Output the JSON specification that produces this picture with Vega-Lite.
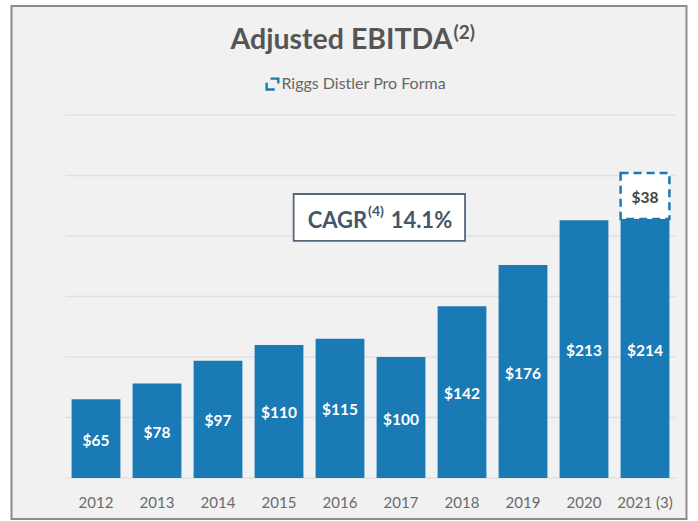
{
"$schema":"https://vega.github.io/schema/vega-lite/v6.json",
"width":610,"height":363,
"autosize":{"type":"none"},
"padding":{"left":65.5,"top":115,"right":22.5,"bottom":43},
"background":"#ffffff",
"view":{"stroke":null},
"title":{"text":"Adjusted EBITDA","font":"Lato","fontSize":28.5,"fontWeight":"bold","color":"#555555","anchor":"middle","dx":-29,"offset":-49},
"config":{"font":"Lato"},
"data":{"values":[
{"year":"2012","value":65,"series":"Adjusted EBITDA","label":"$65","rank":1},
{"year":"2013","value":78,"series":"Adjusted EBITDA","label":"$78","rank":1},
{"year":"2014","value":97,"series":"Adjusted EBITDA","label":"$97","rank":1},
{"year":"2015","value":110,"series":"Adjusted EBITDA","label":"$110","rank":1},
{"year":"2016","value":115,"series":"Adjusted EBITDA","label":"$115","rank":1},
{"year":"2017","value":100,"series":"Adjusted EBITDA","label":"$100","rank":1},
{"year":"2018","value":142,"series":"Adjusted EBITDA","label":"$142","rank":1},
{"year":"2019","value":176,"series":"Adjusted EBITDA","label":"$176","rank":1},
{"year":"2020","value":213,"series":"Adjusted EBITDA","label":"$213","rank":1},
{"year":"2021 (3)","value":214,"series":"Adjusted EBITDA","label":"$214","rank":1},
{"year":"2021 (3)","value":38,"series":"Pro forma","label":"$38","rank":2}
]},
"resolve":{"scale":{"x":"independent"}},
"layer":[
{"data":{"values":[{"name":"frame"}]},
 "mark":{"type":"rect","fill":"#f1f1f1","stroke":"#8c8c8c","strokeWidth":2},
 "encoding":{
  "x":{"datum":-0.885,"type":"quantitative","scale":{"domain":[0,10],"nice":false,"zero":false},"axis":null},
  "x2":{"datum":10.18},
  "y":{"datum":390,"type":"quantitative","scale":{"domain":[0,300],"nice":false},"axis":null},
  "y2":{"datum":-33.9}}},
{"data":{"values":[{"g":0},{"g":50},{"g":100},{"g":150},{"g":200},{"g":250},{"g":300}]},
 "mark":{"type":"rule","stroke":"#e0e0e0","strokeWidth":1.5},
 "encoding":{"y":{"field":"g","type":"quantitative","scale":{"domain":[0,300],"nice":false},"axis":null}}},
{"mark":{"type":"bar","opacity":1},
 "encoding":{
  "x":{"field":"year","type":"nominal","sort":null,"scale":{"paddingInner":0.2,"paddingOuter":0.1},
   "axis":{"title":null,"ticks":false,"domain":false,"labelAngle":0,"labelFontSize":15,"labelColor":"#6a6a6a","labelFont":"Lato","labelPadding":17,"grid":false,"zindex":2}},
  "y":{"field":"value","type":"quantitative","stack":"zero","scale":{"domain":[0,300],"nice":false},"axis":null},
  "order":{"field":"rank"},
  "fill":{"field":"series","type":"nominal","scale":{"domain":["Adjusted EBITDA","Pro forma"],"range":["#1a7ab5","#ffffff"]},"legend":null},
  "stroke":{"field":"series","type":"nominal","scale":{"domain":["Adjusted EBITDA","Pro forma"],"range":["#1a7ab5","#1a7ab5"]},"legend":null},
  "strokeDash":{"field":"series","type":"nominal","scale":{"domain":["Adjusted EBITDA","Pro forma"],"range":[[1,0],[8,5]]},"legend":null},
  "strokeWidth":{"field":"series","type":"nominal","scale":{"domain":["Adjusted EBITDA","Pro forma"],"range":[0,2.5]},"legend":null}}},
{"mark":{"type":"text","font":"Lato","fontWeight":"bold","fontSize":15.5,"baseline":"middle","dy":2},
 "encoding":{
  "x":{"field":"year","type":"nominal","sort":null,"scale":{"paddingInner":0.2,"paddingOuter":0.1},"axis":null},
  "y":{"field":"value","type":"quantitative","stack":"zero","bandPosition":0.5,"scale":{"domain":[0,300],"nice":false},"axis":null},
  "order":{"field":"rank"},
  "text":{"field":"label"},
  "color":{"field":"series","type":"nominal","scale":{"domain":["Adjusted EBITDA","Pro forma"],"range":["#ffffff","#444444"]},"legend":null}}},
{"data":{"values":[{"name":"cagr box"}]},
 "mark":{"type":"rect","fill":"#ffffff","stroke":"#56677a","strokeWidth":1.8},
 "encoding":{
  "x":{"datum":3.74,"type":"quantitative","scale":{"domain":[0,10],"nice":false,"zero":false},"axis":null},
  "x2":{"datum":6.55},
  "y":{"datum":234.7,"type":"quantitative","scale":{"domain":[0,300],"nice":false},"axis":null},
  "y2":{"datum":195.9}}},
{"data":{"values":[{"t":"CAGR"}]},
 "mark":{"type":"text","font":"Lato","fontWeight":"bold","fontSize":22,"color":"#46566a","align":"left","baseline":"middle"},
 "encoding":{"text":{"field":"t"},
  "x":{"datum":3.97,"type":"quantitative","scale":{"domain":[0,10],"nice":false,"zero":false},"axis":null},
  "y":{"datum":212.5,"type":"quantitative","scale":{"domain":[0,300],"nice":false},"axis":null}}},
{"data":{"values":[{"t":"(4)"}]},
 "mark":{"type":"text","font":"Lato","fontWeight":"bold","fontSize":14,"color":"#46566a","align":"left","baseline":"middle"},
 "encoding":{"text":{"field":"t"},
  "x":{"datum":4.96,"type":"quantitative","scale":{"domain":[0,10],"nice":false,"zero":false},"axis":null},
  "y":{"datum":219.5,"type":"quantitative","scale":{"domain":[0,300],"nice":false},"axis":null}}},
{"data":{"values":[{"t":"14.1%"}]},
 "mark":{"type":"text","font":"Lato","fontWeight":"bold","fontSize":22,"color":"#46566a","align":"left","baseline":"middle"},
 "encoding":{"text":{"field":"t"},
  "x":{"datum":5.33,"type":"quantitative","scale":{"domain":[0,10],"nice":false,"zero":false},"axis":null},
  "y":{"datum":212.5,"type":"quantitative","scale":{"domain":[0,300],"nice":false},"axis":null}}},
{"data":{"values":[{"t":"(2)"}]},
 "mark":{"type":"text","font":"Lato","fontWeight":"bold","fontSize":19,"color":"#555555","align":"left","baseline":"middle"},
 "encoding":{"text":{"field":"t"},
  "x":{"datum":6.36,"type":"quantitative","scale":{"domain":[0,10],"nice":false,"zero":false},"axis":null},
  "y":{"datum":368,"type":"quantitative","scale":{"domain":[0,300],"nice":false},"axis":null}}},
{"data":{"values":[{"t":"Riggs Distler Pro Forma"}]},
 "mark":{"type":"text","font":"Lato","fontSize":16,"color":"#666666","align":"left","baseline":"middle"},
 "encoding":{"text":{"field":"t"},
  "x":{"datum":3.54,"type":"quantitative","scale":{"domain":[0,10],"nice":false,"zero":false},"axis":null},
  "y":{"datum":325.6,"type":"quantitative","scale":{"domain":[0,300],"nice":false},"axis":null}}},
{"data":{"values":[{"name":"icon"}]},
 "mark":{"type":"point","filled":false,"shape":"M-0.8,-0.1 L-0.8,0.85 L0.35,0.85 M-0.25,-0.7 L0.85,-0.7 L0.85,0","size":200,"stroke":"#1a7ab5","strokeWidth":2.4,"opacity":1},
 "encoding":{
  "x":{"datum":3.39,"type":"quantitative","scale":{"domain":[0,10],"nice":false,"zero":false},"axis":null},
  "y":{"datum":326,"type":"quantitative","scale":{"domain":[0,300],"nice":false},"axis":null}}}
]
}
